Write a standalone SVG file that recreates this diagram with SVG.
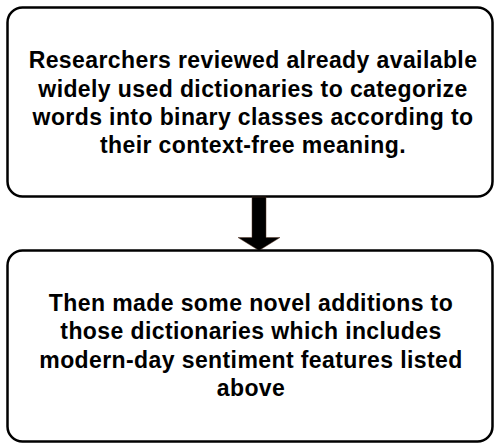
<svg xmlns="http://www.w3.org/2000/svg" width="500" height="447" viewBox="0 0 500 447">
<style>
.box{fill:#fff;stroke:#000;stroke-width:2.5}
.t{font-family:"Liberation Sans",Arial,sans-serif;font-weight:bold;font-size:23px;letter-spacing:0.4px;fill:#000;text-anchor:middle}
</style>
<rect width="500" height="447" fill="#fff"/>
<g id="node1">
<rect class="box" x="7.5" y="7.5" width="485" height="189" rx="15"/>
<text class="t" x="253" y="68.3">Researchers reviewed already available</text>
<text class="t" x="253" y="96.5">widely used dictionaries to categorize</text>
<text class="t" x="253" y="124.7">words into binary classes according to</text>
<text class="t" x="253" y="152.9">their context-free meaning.</text>
</g>
<g id="connectors">
<polygon points="252,197 266,197 266,237.5 280,237.5 259,250.5 238,237.5 252,237.5" fill="#000" stroke="#5a3a2a" stroke-width="0.5"/>
</g>
<g id="node2">
<rect class="box" x="7.5" y="250.5" width="485" height="191" rx="15"/>
<text class="t" x="251" y="310.5">Then made some novel additions to</text>
<text class="t" x="251" y="339">those dictionaries which includes</text>
<text class="t" x="251" y="367.5">modern-day sentiment features listed</text>
<text class="t" x="251" y="396">above</text>
</g>
</svg>
